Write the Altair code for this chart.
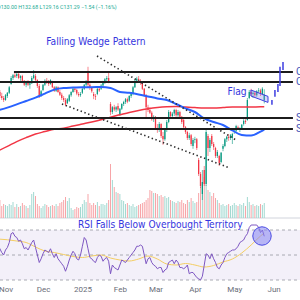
import altair as alt
import pandas as pd

# ---------------- data ----------------
holidays = ["2024-11-28", "2024-12-25", "2025-01-01", "2025-01-09",
            "2025-01-20", "2025-02-17", "2025-04-18"]

tick_pos = [4, 24, 45, 65, 84, 105, 126, 147]
tick_lab = ["Nov", "Dec", "2025", "Feb", "Mar", "Apr", "May", "Jun"]

open_ = [
    132.5, 132, 131, 130.5, 130,
    131, 131.8, 134, 135.5, 136.2,
    136, 136.5, 135.5, 136, 134.8,
    133.8, 134.5, 133.8, 134.2, 135.5,
    136, 135, 133.5, 131,
    132.5, 133.8, 134.8, 134.5, 134,
    134.5, 133.2, 132.3, 133.2, 132,
    131.3, 130.5, 130, 129.2, 129.8,
    131.2, 132, 132.8, 132.5,
    131.5, 131.2, 131.8, 132.8,
    133.8, 137, 133.8, 133,
    131.5, 131, 131.5, 132.8, 132.8,
    133.6, 134.5, 135.2, 135.5,
    129, 127, 128.2, 127.6, 128.5,
    126.5, 127.8, 129, 129.5, 130.2,
    129.8, 131, 131.6, 133.2, 134.8,
    135.3, 134.8, 134.2, 132.8,
    131.2, 128.2, 127.5, 126.8, 125.2,
    125.8, 123, 122.5, 124, 121,
    120.2, 122.5, 124.5, 127, 126,
    126.6, 127.5, 126.2, 127, 125.8,
    125, 123.2, 122, 120.5, 121.2,
    118.5, 120, 120.2, 115, 111.5,
    106.5, 112.5, 109, 121, 118,
    121, 119, 118, 116,
    116, 114.5, 117.8, 118.5, 120.2,
    120.8, 120.5, 120.5, 122, 122.3,
    123.2, 122.6, 123, 124, 124.8,
    125, 130.5, 132, 131.5, 131.8,
    131.2, 132.2, 132.4, 131.5, 130,
]
high = [
    133, 132.5, 131.8, 131, 131.5,
    132, 133.5, 136, 136.5, 137,
    137, 136.8, 136.2, 136.3, 135,
    134.8, 135, 134.5, 136, 137.5,
    136.5, 135.2, 134, 132.5,
    134, 135.2, 135.5, 135, 135.2,
    134.8, 133.5, 133.5, 133.4, 132.5,
    131.8, 131, 130.5, 130.5, 131.5,
    132.2, 133, 133.2, 132.8,
    132, 132, 133, 134,
    135, 138.3, 134.2, 133.3,
    132, 131.5, 133, 133.2, 134,
    134.8, 135.5, 136, 137,
    129.5, 128.5, 128.8, 128.5, 129.2,
    128, 129.2, 129.8, 130.5, 130.6,
    131.2, 132, 133.5, 135.2, 135.8,
    136, 135.2, 134.5, 133,
    131.5, 128.8, 128.2, 127.2, 126.2,
    126, 124, 124.5, 124.2, 122,
    123, 125, 127.5, 127.2, 127,
    127.8, 127.8, 127.5, 127.3, 126,
    125.5, 123.5, 122.3, 121.8, 121.5,
    120.5, 120.8, 120.5, 115.5, 112,
    112.5, 113.5, 122.5, 121.5, 120.5,
    121.5, 119.5, 118.3, 117.5,
    116.3, 117, 119, 120.5, 121,
    121.5, 121.5, 121.8, 122.8, 123.8,
    123.6, 123.2, 124, 125.2, 125.2,
    130.5, 132.5, 132.8, 132.2, 132,
    132.5, 133, 132.8, 133.2, 132.68,
]
low = [
    131.5, 130.5, 130, 129.5, 129.8,
    130.5, 131.5, 133.8, 135, 135.5,
    135.5, 135.2, 134.8, 134.5, 133.5,
    133.2, 133.5, 132.8, 134, 135.2,
    134.5, 133, 130.5, 130.8,
    132.2, 133.5, 134, 133.5, 133.8,
    133, 132, 132, 131.8, 131,
    130, 129.5, 128.5, 129, 129.5,
    130.8, 131.8, 132, 131.2,
    130.8, 130.8, 131.5, 132.5,
    133.5, 133.2, 132.5, 131.8,
    130.2, 130, 131.2, 132, 132.5,
    133.2, 134, 134.5, 134.2,
    126.2, 126.5, 127.2, 127, 127.3,
    126, 127.5, 128.5, 129, 129.2,
    129.5, 130.5, 131.2, 133, 134.2,
    134.5, 133.8, 132.5, 130.8,
    125.5, 127, 126.5, 124.8, 124.5,
    122.5, 121.8, 122, 120.5, 118.8,
    119.8, 122, 124.2, 125.5, 125.5,
    126, 125.8, 125.8, 125.5, 124,
    123, 121.5, 120, 120, 118.5,
    117.8, 119.2, 117.5, 111, 108,
    105, 108.5, 108.5, 116, 117,
    118.5, 117.5, 115.5, 115.5,
    113.5, 114.2, 117.2, 118.2, 119.5,
    119.8, 120, 119, 121.5, 122,
    122.5, 122, 122.6, 123.6, 124,
    124.8, 130.2, 131, 130.5, 130.8,
    130.8, 131.8, 131, 131.2, 129.16,
]
close = [
    132, 131, 130.5, 130, 131.2,
    131.8, 133.2, 135.5, 136.2, 135.8,
    136.5, 135.5, 136, 134.8, 133.8,
    134.5, 133.8, 134.2, 135.5, 136.2,
    135, 133.5, 131, 132.2,
    133.8, 134.8, 134.5, 134, 135,
    133.2, 132.3, 133.2, 132, 131.3,
    130.5, 130, 128.8, 130.2, 131.2,
    132, 132.8, 132.5, 131.6,
    131.2, 131.5, 132.8, 133.8,
    134.6, 133.8, 133, 132.2,
    131, 130.8, 132.8, 132.4, 133.6,
    134.5, 135.2, 135.5, 134.6,
    127, 128.2, 127.6, 128.2, 127.6,
    127.8, 129, 129.5, 130.2, 129.6,
    131, 131.6, 133.2, 134.8, 135.3,
    134.8, 134.2, 132.8, 131.2,
    128.2, 127.5, 126.8, 125.2, 125.8,
    123, 122.5, 124, 121, 120.2,
    122.5, 124.5, 127, 126, 126.6,
    127.5, 126.2, 127, 125.8, 124.5,
    123.2, 122, 120.5, 121.2, 119,
    120, 120.2, 118, 111.5, 108.5,
    109.5, 109, 122, 118, 120,
    119, 118.2, 116, 117,
    114.2, 116.8, 118.5, 120.2, 120.8,
    120.5, 121.2, 121.5, 122.3, 123.5,
    123, 122.8, 123.8, 124.8, 124.5,
    130, 132, 131.5, 131.8, 131.2,
    132.2, 132.4, 131.5, 132.83, 131.29,
]
volume = [
    15, 18, 12, 14, 13,
    12, 14, 13, 16, 11,
    14, 11, 12, 15, 13,
    12, 10, 13, 24, 26,
    22, 14, 12, 10,
    12, 14, 13, 11, 12,
    13, 12, 14, 12, 15,
    16, 18, 21, 17, 20,
    10, 8, 9, 11,
    10, 11, 14, 18,
    16, 24, 15, 13,
    15, 13, 16, 12, 14,
    14, 13, 15, 18,
    54, 38, 31, 26, 25,
    24, 18, 17, 14, 15,
    13, 12, 14, 11, 12,
    13, 14, 15, 16,
    18, 20, 28, 27, 25,
    25, 24, 22, 23, 21,
    22, 20, 21, 18, 17,
    16, 15, 17, 16, 18,
    15, 14, 18, 16, 20,
    17, 15, 16, 25, 31,
    36, 41, 33, 28, 26,
    22, 25, 20, 18,
    15, 13, 14, 12, 13,
    14, 12, 13, 15, 13,
    12, 14, 13, 15, 12,
    21, 16, 13, 14, 12,
    13, 12, 14, 13, 15,
]
rsi = [
    58, 55, 52, 50, 54,
    56, 60, 67, 68, 65,
    64, 61, 62, 59, 55,
    56, 54, 57, 60, 62,
    56, 50, 44, 47,
    51, 54, 53, 52, 55,
    51, 48, 51, 47, 45,
    43, 41, 37, 41, 46,
    50, 53, 51, 47,
    46, 50, 57, 64,
    62, 55, 48, 47,
    45, 44, 48, 50, 49,
    45, 47, 48, 45,
    35, 42, 40, 39, 38,
    42, 46, 45, 44, 46,
    48, 50, 52, 54, 57,
    57, 58, 57, 50,
    43, 47, 48, 44, 42,
    41, 39, 40, 40, 36,
    38, 39, 44, 45, 46,
    43, 46, 44, 40, 40,
    39, 40, 42, 35, 36,
    36, 34, 32, 31, 30,
    33, 42, 51, 50, 47,
    51, 47, 44, 40,
    39, 42, 44, 48, 51,
    52, 53, 54, 54, 55,
    57, 60, 61, 62, 65,
    67, 72, 74, 74, 74,
    74, 72, 68, 70, 65,
]

# moving averages, sampled every 5 bars
ma_idx = [0, 5, 10, 15, 20, 25, 30, 35, 40, 45, 50, 55, 60, 65, 70, 75,
          80, 85, 90, 95, 100, 105, 110, 115, 120, 125, 130, 135, 140, 142]
blue_ma = [127.4, 128.1, 128.9, 129.75, 130.6, 131.6, 132.6, 133, 133.1, 133.2,
           133.2, 133.25, 133, 132, 131.8, 131.4, 130.9, 130.4, 130, 129,
           127.9, 127, 125.4, 124.5, 123.75, 122.4, 121.25, 121.1, 122.1, 122.6]
red_ma = [117.25, 118.4, 119.6, 120.6, 121.5, 122.1, 122.7, 122.95, 123.5, 124,
          124.5, 125.05, 125.7, 126.3, 126.9, 127.4, 127.8, 128.1, 128.3, 128.4,
          128.25, 128.1, 128, 128, 128.1, 128.25, 128.25, 128.25, 128.3, 128.3]
rsi_ma = [62.8, 62.2, 61.2, 60, 56.4, 53.2, 52, 50.4, 48.8, 48,
          49.2, 50, 47.6, 46, 45.2, 46.8, 49.2, 46.8, 42.8, 42,
          43.2, 42, 40.4, 41.6, 44.4, 46.8, 51.6, 58, 65.2, 67.6]

# drawings
hl_start = [8.5, 0, 0, 0]
hl_end = [157.3, 157.3, 157.3, 157.3]
hl_price = [137, 134.5, 125.5, 122.75]
hl_tag = ["C", "C", "S", "S"]

wedge_id = ["upper", "upper", "lower", "lower"]
wedge_i = [52.8, 126.9, 34.1, 123.7]
wedge_p = [141, 120, 129, 113]

flag_i = [134.9, 144]
flag_top = [132.5, 130.9]
flag_bot = [131, 129.4]

proj_i = [146.1, 147.7, 149.3, 150.4, 152]
proj_lo = [128.8, 130.8, 132, 133.5, 137.5]
proj_hi = [130, 132.5, 134, 138.3, 139.5]

header = "O130.00 H132.68 L129.16 C131.29 \u22121.54 (\u22121.16%)"

# ---------------- frames ----------------
days = [d for d in pd.bdate_range("2024-10-28", "2025-05-23")
        if d.strftime("%Y-%m-%d") not in holidays]
df = pd.DataFrame({
    "i": list(range(len(days))),
    "date": [d.strftime("%Y-%m-%d") for d in days],
    "open": open_, "high": high, "low": low, "close": close,
    "volume": volume, "rsi": rsi,
})
ma_df = pd.DataFrame({"i": ma_idx, "blue": blue_ma, "red": red_ma, "rsi_ma": rsi_ma})
hl_df = pd.DataFrame({"x1": hl_start, "x2": hl_end, "p": hl_price, "tag": hl_tag})
wedge_df = pd.DataFrame({"id": wedge_id, "i": wedge_i, "p": wedge_p})
flag_df = pd.DataFrame({"i": flag_i, "top": flag_top, "bot": flag_bot})
proj_df = pd.DataFrame({"i": proj_i, "lo": proj_lo, "hi": proj_hi})

# ---------------- scales ----------------
XS = alt.Scale(domain=[16 / 15, 161 + 1 / 15], nice=False, zero=False)
PRICE = alt.Scale(domain=[84.25, 155], nice=False, zero=False)
VOL = alt.Scale(domain=[-65, 218], nice=False, zero=False)
RSIS = alt.Scale(domain=[27.6, 254], nice=False, zero=False)

label_expr = " : ".join(
    f"datum.value == {p} ? '{l}'" for p, l in zip(tick_pos, tick_lab)) + " : ''"
AXIS = alt.Axis(values=tick_pos, labelExpr=label_expr, title=None, grid=False,
                ticks=False, domain=False, labelFontSize=8, labelColor="#6a6d78",
                labelPadding=2, labelFont="Roboto", labelOverlap=False)


def X(f="i"):
    return alt.X(f"{f}:Q", scale=XS, axis=AXIS)


def YP(f):
    return alt.Y(f"{f}:Q", scale=PRICE, axis=None)


def YR(f):
    return alt.Y(f"{f}:Q", scale=RSIS, axis=None)


RED, GREEN = "#f23645", "#089981"
ANN = "#3535de"
FONT = "Liberation Sans Narrow, DejaVu Sans Condensed, sans-serif"
up_down = alt.condition("datum.close < datum.open", alt.value(RED), alt.value(GREEN))
vol_col = alt.condition("datum.close < datum.open", alt.value("#f7a5a8"), alt.value("#a2d9d1"))

base = alt.Chart(df)

band = alt.Chart(pd.DataFrame({"top": [70], "bot": [30]})).mark_rect(
    color="#7e57c2", opacity=0.09).encode(
    x=alt.value(0), x2=alt.value(300), y=YR("top"), y2="bot:Q")
levels = alt.Chart(pd.DataFrame({"v": [70, 50, 30]})).mark_rule(
    color="#9598a1", strokeDash=[3, 3], strokeWidth=0.8).encode(
    x=alt.value(0), x2=alt.value(300), y=YR("v"))
divider = alt.Chart(pd.DataFrame({"v": [79.6]})).mark_rule(
    color="#d1d4dc", strokeWidth=1).encode(x=alt.value(0), x2=alt.value(300), y=YR("v"))
rsi_ma_line = alt.Chart(ma_df).mark_line(
    color="#f3ce63", strokeWidth=1, interpolate="monotone").encode(x=X(), y=YR("rsi_ma"))
rsi_line = base.mark_line(color="#7e57c2", strokeWidth=1).encode(x=X(), y=YR("rsi"))
circle = alt.Chart(pd.DataFrame({"i": [140.8], "v": [65.2]})).mark_circle(
    size=340, color="#8585f2", opacity=1, fillOpacity=0.55, stroke="#4b4be3",
    strokeWidth=1).encode(x=X(), y=YR("v"))
rsi_text = alt.Chart(pd.DataFrame({"i": [86.6], "v": [74],
                                   "t": ["RSI Falls Below Overbought Territory"]})).mark_text(
    font=FONT, fontSize=10.1, color=ANN, baseline="middle").encode(
    x=X(), y=YR("v"), text="t:N")

vol = base.mark_rule(strokeWidth=1.0).encode(
    x=X(), y=alt.Y("volume:Q", scale=VOL, axis=None), y2=alt.datum(0), color=vol_col)
wick = base.mark_rule(strokeWidth=0.6).encode(x=X(), y=YP("low"), y2="high:Q", color=up_down)
body = base.mark_rule(strokeWidth=1.3).encode(x=X(), y=YP("open"), y2="close:Q", color=up_down)

red_line = alt.Chart(ma_df).mark_line(color=RED, strokeWidth=1.5, interpolate="monotone").encode(
    x=X(), y=YP("red"))
blue_line = alt.Chart(ma_df).mark_line(color="#2962ff", strokeWidth=2, interpolate="monotone").encode(
    x=X(), y=YP("blue"))

hlines = alt.Chart(hl_df).mark_rule(color="#1c1c1c", strokeWidth=1.8).encode(
    x=X("x1"), x2="x2:Q", y=YP("p"))
hl_text = alt.Chart(hl_df).mark_text(align="left", baseline="middle", fontSize=10,
                                     color="#3f51b5", font="Roboto").encode(
    x=alt.value(296), y=YP("p"), text="tag:N")
dotted = alt.Chart(wedge_df).mark_line(color="#2b2b2b", strokeWidth=1.6,
                                      strokeDash=[1.4, 2.6]).encode(
    x=X(), y=YP("p"), detail="id:N")
flag_box = alt.Chart(flag_df).mark_area(fill="#8c8cf2", fillOpacity=0.35, stroke="#3d3de0",
                                        strokeWidth=1).encode(x=X(), y=YP("top"), y2="bot:Q")
proj = alt.Chart(proj_df).mark_rule(color="#3d3de0", strokeWidth=1.5).encode(
    x=X(), y=YP("lo"), y2="hi:Q")

wedge_text = alt.Chart(pd.DataFrame({"i": [52.2], "p": [144.5],
                                     "t": ["Falling Wedge Pattern"]})).mark_text(
    font=FONT, fontSize=10.2, color=ANN, baseline="middle").encode(x=X(), y=YP("p"), text="t:N")
flag_text = alt.Chart(pd.DataFrame({"i": [127.5], "p": [132], "t": ["Flag"]})).mark_text(
    font=FONT, fontSize=10.2, color=ANN, baseline="middle").encode(x=X(), y=YP("p"), text="t:N")
head = alt.Chart(pd.DataFrame({"t": [header]})).mark_text(
    align="left", baseline="middle", fontSize=5.3, color="#22ab94", font="Roboto").encode(
    x=alt.value(-3), y=alt.value(6.5), text="t:N")

chart = alt.layer(
    band, levels, divider, rsi_ma_line, rsi_line, circle, rsi_text,
    vol, wick, body, red_line, blue_line,
    hlines, hl_text, dotted, flag_box, proj,
    wedge_text, flag_text, head,
).resolve_scale(y="independent").properties(
    width=300, height=283,
    padding={"left": 0, "top": 0, "right": 0, "bottom": 17},
    autosize=alt.AutoSizeParams(type="none"),
    background="white",
).configure_view(strokeWidth=0)

chart.save("out.html", embed_options={"renderer": "svg", "actions": False})
